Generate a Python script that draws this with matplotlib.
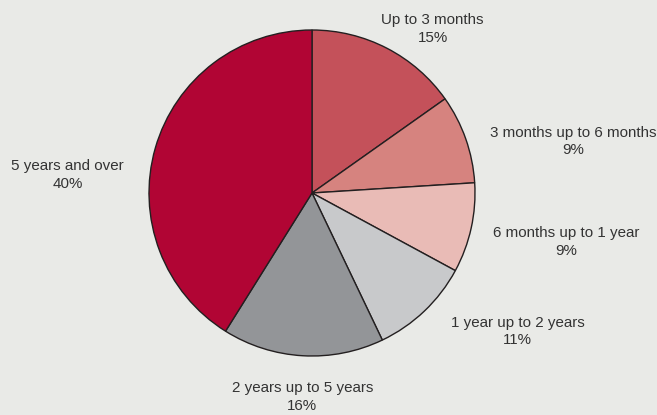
import matplotlib
matplotlib.use("Agg")
import matplotlib.pyplot as plt
import numpy as np

categories = ["Up to 3 months", "3 months up to 6 months", "6 months up to 1 year",
              "1 year up to 2 years", "2 years up to 5 years", "5 years and over"]
values = [15.2, 8.8, 8.9, 10.0, 16.0, 41.1]
pct_labels = ["15%", "9%", "9%", "11%", "16%", "40%"]
colors = ["#C4515A", "#D6837F", "#E9BBB6", "#C8C9CB", "#939598", "#B10534"]

# label positions relative to pie centre (in radius units)
label_pos = [(0.74, 1.006), (1.60, 0.316), (1.56, -0.30), (1.26, -0.85), (-0.06, -1.25), (-1.50, 0.11)]

plt.rcParams['font.family'] = ['Liberation Sans', 'DejaVu Sans']
bg = "#E9EAE7"
fig = plt.figure(figsize=(6.57, 4.15), dpi=100, facecolor=bg)
ax = fig.add_axes([0, 0, 1, 1])
ax.set_facecolor(bg)
ax.pie(values, colors=colors, startangle=90, counterclock=False, radius=1.0,
       wedgeprops=dict(edgecolor="#231F20", linewidth=1.0))
r_px = 163.0
cx, cy = 312.0, 222.0
ax.set_xlim(-cx / r_px, (657 - cx) / r_px)
ax.set_ylim(-cy / r_px, (415 - cy) / r_px)
ax.set_aspect('auto')
ax.axis('off')

for cat, pct, (x, y) in zip(categories, pct_labels, label_pos):
    ax.text(x, y, cat + "\n" + pct, ha="center", va="center", fontsize=10.9,
            color="#333333", linespacing=1.35)

fig.savefig("out.png", dpi=100, facecolor=bg)
